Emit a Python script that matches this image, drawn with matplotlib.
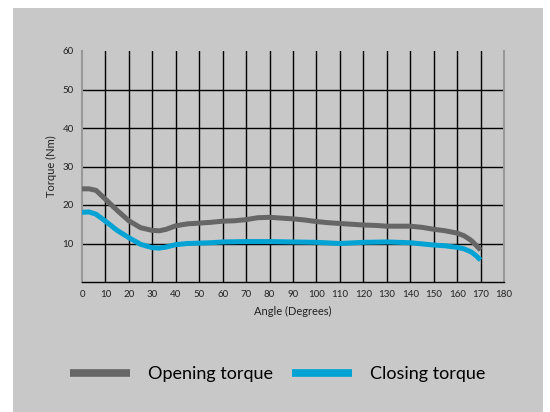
import matplotlib
matplotlib.use('Agg')
import matplotlib.pyplot as plt
from matplotlib.patches import Rectangle

angle_open = [0, 3, 6, 10, 15, 20, 25, 30, 33, 36, 40, 45, 50, 55, 60, 65, 70, 75, 80, 85, 90,
              95, 100, 105, 110, 115, 120, 125, 130, 135, 140, 145, 150, 155, 160, 163, 166, 168, 170]
opening = [24.2, 24.2, 23.8, 21.5, 18.6, 15.9, 14.1, 13.4, 13.3, 13.7, 14.6, 15.1, 15.3, 15.5, 15.8, 15.9, 16.2,
           16.7, 16.8, 16.6, 16.4, 16.1, 15.7, 15.4, 15.2, 15.0, 14.8, 14.7, 14.5, 14.5, 14.5, 14.2, 13.7,
           13.3, 12.7, 12.0, 10.8, 9.6, 8.3]

angle_close = [0, 3, 6, 10, 15, 20, 25, 30, 33, 36, 40, 45, 50, 55, 60, 70, 80, 90, 100, 110, 120,
               130, 140, 150, 155, 160, 163, 166, 168, 170]
closing = [18.1, 18.2, 17.6, 15.8, 13.4, 11.5, 9.8, 8.9, 8.8, 9.1, 9.7, 10.0, 10.1, 10.2, 10.4, 10.5,
           10.5, 10.4, 10.3, 10.0, 10.3, 10.4, 10.2, 9.6, 9.4, 9.0, 8.6, 7.8, 6.9, 5.7]

xticks = list(range(0, 181, 10))
yticks = [10, 20, 30, 40, 50, 60]

plt.rcParams['font.family'] = ['Lato', 'DejaVu Sans']

bg = '#c8c8c8'
fig = plt.figure(figsize=(5.5, 4.12), dpi=100, facecolor='white')
fig.patches.append(Rectangle((13 / 550, 0), 530 / 550, (412 - 8) / 412, transform=fig.transFigure,
                             facecolor=bg, edgecolor='none', zorder=-10))

ax = fig.add_axes([82 / 550, 130 / 412, 422 / 550, 231 / 412])
ax.set_zorder(5)
ax.set_facecolor(bg)
ax.set_xlim(0, 180)
ax.set_ylim(0, 60)

for x in range(10, 171, 10):
    ax.axvline(x, color='black', lw=1, zorder=1)
for y in [10, 20, 30, 40, 50]:
    ax.axhline(y, color='black', lw=1, zorder=1)

ax.plot(angle_open, opening, color='#666666', lw=3.6, solid_capstyle='butt', zorder=3, label='Opening torque')
ax.plot(angle_close, closing, color='#00a3d4', lw=3.6, solid_capstyle='butt', zorder=3, label='Closing torque')

ax.set_xticks(xticks)
ax.set_yticks(yticks)
ax.tick_params(length=0, labelsize=7, colors='#222222', pad=6)
ax.spines['top'].set_visible(False)
ax.spines['left'].set_color('#999999')
ax.spines['right'].set_color('#999999')
ax.spines['left'].set_linewidth(1.5)
ax.spines['right'].set_linewidth(1.5)
ax.spines['bottom'].set_color('black')
ax.spines['bottom'].set_linewidth(1)

ax.set_xlabel('Angle (Degrees)', fontsize=8, color='#222222', labelpad=5)
ax.set_ylabel('Torque (Nm)', fontsize=8, color='#222222', labelpad=4)

leg = fig.legend(loc='center', bbox_to_anchor=(0.505, 38 / 412), ncol=2, frameon=False,
                 fontsize=13, handlelength=3.3, handletextpad=1.0, columnspacing=1.1)
for line in leg.get_lines():
    line.set_linewidth(5.5)

plt.savefig('out.png', dpi=100, facecolor='white')
